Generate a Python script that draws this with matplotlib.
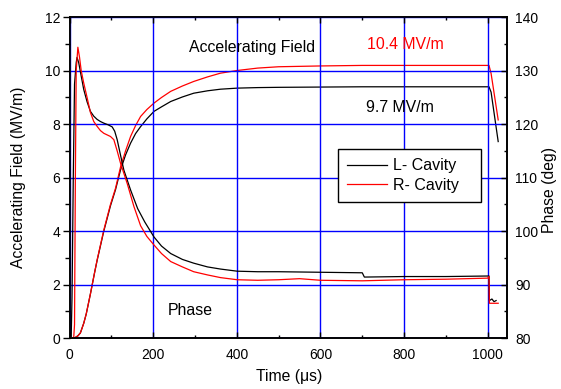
import numpy as np
import matplotlib
matplotlib.use("Agg")
import matplotlib.pyplot as plt
from matplotlib.ticker import MultipleLocator

# field and phase of the two cavities

# accelerating field (MV/m)
t_field = [0, 10, 14, 20, 26, 34, 40, 50, 60, 66, 82, 98, 110, 122, 134, 146,
           158, 170, 185, 202, 220, 242, 270, 297, 330, 361, 401, 450, 500,
           600, 700, 800, 900, 1003, 1008, 1025]
field_R = [0, 0, 0.02, 0.08, 0.19, 0.55, 0.9, 1.65, 2.45, 2.92, 4.04, 5.0,
           5.6, 6.4, 7.0, 7.54, 7.95, 8.29, 8.55, 8.79, 9.0, 9.23, 9.43, 9.6,
           9.77, 9.91, 10.01, 10.1, 10.15, 10.18, 10.2, 10.2, 10.2, 10.2, 9.9,
           8.16]
field_L = [0, 0, 0.02, 0.08, 0.19, 0.55, 0.9, 1.65, 2.45, 2.9, 4.0, 4.95,
           5.55, 6.29, 6.85, 7.29, 7.65, 7.91, 8.2, 8.48, 8.65, 8.85, 9.02,
           9.16, 9.25, 9.31, 9.35, 9.37, 9.38, 9.39, 9.4, 9.4, 9.4, 9.4, 9.2,
           7.35]

# phase (deg)
t_phase_L = [0, 4, 6, 9, 12, 16, 18, 22, 28, 34, 42, 50, 58, 66, 74, 82, 92,
             102, 108, 114, 122, 130, 146, 163, 180, 202, 220, 242, 270, 297,
             330, 361, 401, 450, 500, 600, 700, 705, 800, 900, 1003, 1004,
             1010, 1015, 1020]
phase_L = [80.1, 80.1, 87.5, 110, 127.5, 131.5, 132.5, 131.5, 129, 126.5,
           124.2, 122.4, 121.5, 120.9, 120.5, 120.2, 119.9, 119.5, 118.7,
           117.1, 114.2, 111.4, 107.7, 104.2, 101.7, 98.9, 97.2, 95.8, 94.7,
           94.0, 93.3, 92.9, 92.5, 92.4, 92.4, 92.3, 92.2, 91.4, 91.5, 91.5,
           91.6, 87.0, 87.3, 86.8, 87.0]
t_phase_R = [0, 5, 10, 12, 14, 16, 20, 24, 28, 34, 42, 50, 58, 66, 74, 82,
             90, 98, 102, 106, 114, 122, 138, 154, 170, 185, 202, 220, 242,
             270, 297, 330, 361, 401, 450, 500, 550, 600, 700, 800, 900, 1000,
             1003, 1004, 1025]
phase_R = [80.2, 80, 80, 82.5, 110, 130, 134.4, 132.5, 130, 127.7, 125,
           122.2, 120.5, 119.6, 118.8, 118.3, 118, 117.7, 117.4, 117.1, 115,
           112.7, 108.9, 104.6, 101, 99, 97.4, 95.8, 94.3, 93.3, 92.4, 91.8,
           91.3, 90.9, 90.8, 90.9, 91.1, 90.8, 90.7, 90.9, 91.0, 91.2, 91.5,
           86.5, 86.5]

plt.rcParams['font.family'] = ['Liberation Sans', 'DejaVu Sans']

fig = plt.figure(figsize=(5.61, 3.89), dpi=100)
ax = fig.add_axes([0.1239, 0.1311, 0.7798, 0.8244])
ax2 = ax.twinx()

ax.plot(t_field, field_L, color='black', lw=0.9, label='L- Cavity')
ax.plot(t_field, field_R, color='red', lw=0.9, label='R- Cavity')
ax2.plot(t_phase_L, phase_L, color='black', lw=0.9)
ax2.plot(t_phase_R, phase_R, color='red', lw=0.9)

ax.set_xlim(0, 1046)
ax.set_ylim(0, 12)
ax2.set_ylim(80, 140)

ax.xaxis.set_major_locator(MultipleLocator(200))
ax.xaxis.set_minor_locator(MultipleLocator(100))
ax.yaxis.set_major_locator(MultipleLocator(2))
ax.yaxis.set_minor_locator(MultipleLocator(1))
ax2.yaxis.set_major_locator(MultipleLocator(10))
ax2.yaxis.set_minor_locator(MultipleLocator(5))

ax.grid(True, which='major', color='blue', lw=1.0)
ax.set_axisbelow(False)

ax.tick_params(axis='x', which='both', direction='in', top=True,
               labelsize=10, pad=7)
ax.tick_params(axis='x', which='major', length=4, width=1)
ax.tick_params(axis='x', which='minor', length=2.4, width=1)
ax.tick_params(axis='y', which='both', direction='out', labelsize=10, pad=1.5)
ax.tick_params(axis='y', which='major', length=5, width=1)
ax.tick_params(axis='y', which='minor', length=3.3, width=1)
ax2.tick_params(axis='y', which='both', direction='in', labelsize=10, pad=6)
ax2.tick_params(axis='y', which='major', length=4, width=1)
ax2.tick_params(axis='y', which='minor', length=2.4, width=1)

for a in (ax, ax2):
    for s in a.spines.values():
        s.set_linewidth(1.2)

ax.set_xlabel('Time (\u03bcs)', fontsize=11.3)
ax.set_ylabel('Accelerating Field (MV/m)', fontsize=11.3)
ax2.set_ylabel('Phase (deg)', fontsize=11.3)
ax.xaxis.set_label_coords(0.503, -0.097)
ax.yaxis.set_label_coords(-0.1, 0.5)
ax2.yaxis.set_label_coords(1.081, 0.46)

ax.text(286, 10.7, 'Accelerating Field', fontsize=11.4, va='baseline')
ax.text(712, 10.82, '10.4 MV/m', fontsize=11.4, color='red', va='baseline')
ax.text(710, 8.45, '9.7 MV/m', fontsize=11.4, va='baseline')
ax.text(235, 0.86, 'Phase', fontsize=11.4, va='baseline')

leg = ax2.legend(*ax.get_legend_handles_labels(), loc='upper left',
                 bbox_to_anchor=(0.614, 0.588, 0.327, 0.0), mode='expand',
                 borderaxespad=0, fontsize=11.5, fancybox=False,
                 handlelength=2.5, handletextpad=0.4, labelspacing=0.3,
                 borderpad=0.55, framealpha=1)
leg.get_frame().set_edgecolor('black')
leg.get_frame().set_linewidth(1.0)

fig.savefig('out.png', dpi=100)
